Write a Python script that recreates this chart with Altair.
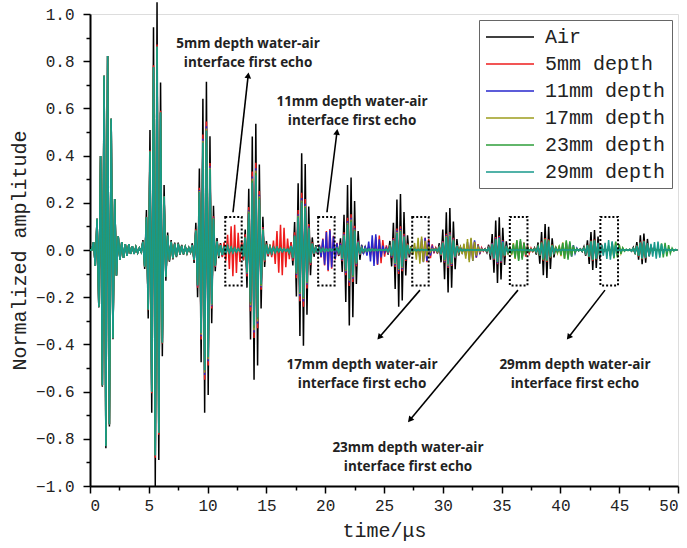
import altair as alt
import pandas as pd

# ---------------- data ----------------
SERIES = ["Air", "5mm depth", "11mm depth", "17mm depth", "23mm depth", "29mm depth"]
COLORS = ["#000000", "#ee1c1c", "#2626cc", "#9c9c1c", "#2e9e3a", "#17998b"]

HALF_PERIOD_US = 0.15           # spacing of successive +/- spikes
T_END = 50.0

# relative spike heights through one burst (with ringing tail), read from the first burst
BURST_SHAPE = [0.04, 0.08, 0.16, 0.29, 0.48, 0.69, 0.89, 1.0, 0.99, 0.89, 0.67, 0.45,
               0.26, 0.13, 0.07, 0.05, 0.04, 0.04, 0.03, 0.03, 0.03, 0.02, 0.02, 0.02,
               0.015, 0.015, 0.01, 0.01]
BURST_PEAK_INDEX = 7

# centres of the plate reverberation bursts (µs)
MAIN_BURST_T = [1.4, 5.55, 9.8, 14.0, 18.0, 22.1, 26.3, 30.4, 34.6, 38.7, 42.8, 46.9]

# peak amplitudes of each burst
AIR_POS = [0.83, 1.06, 0.72, 0.54, 0.41, 0.31, 0.24, 0.18, 0.14, 0.11, 0.085, 0.07]
AIR_NEG = [0.84, 1.00, 0.69, 0.55, 0.41, 0.32, 0.24, 0.18, 0.14, 0.12, 0.085, 0.06]
D5_ENV = [0.83, 0.88, 0.55, 0.37, 0.24, 0.15, 0.10, 0.075, 0.06, 0.05, 0.045, 0.04]
D11_ENV = [0.83, 0.87, 0.53, 0.35, 0.22, 0.135, 0.09, 0.07, 0.055, 0.045, 0.04, 0.035]
D17_ENV = [0.83, 0.87, 0.52, 0.34, 0.21, 0.13, 0.085, 0.065, 0.05, 0.045, 0.04, 0.035]
D23_ENV = [0.83, 0.87, 0.51, 0.33, 0.205, 0.125, 0.08, 0.06, 0.05, 0.045, 0.04, 0.035]
D29_ENV = [0.83, 0.87, 0.51, 0.32, 0.20, 0.12, 0.08, 0.06, 0.05, 0.04, 0.04, 0.035]

# water-air interface echoes (centre µs, peak amplitude)
ECHO5_T = [12.1, 16.2, 20.3, 24.4, 28.5, 32.6, 36.7]
ECHO5_A = [0.10, 0.10, 0.085, 0.06, 0.05, 0.035, 0.03]
ECHO11_T = [20.2, 24.2, 28.3, 32.4, 36.5, 40.6]
ECHO11_A = [0.08, 0.065, 0.05, 0.045, 0.035, 0.03]
ECHO17_T = [28.1, 32.2, 36.3, 40.4, 44.5]
ECHO17_A = [0.055, 0.05, 0.04, 0.035, 0.03]
ECHO23_T = [36.4, 40.5, 44.6, 48.7]
ECHO23_A = [0.045, 0.04, 0.035, 0.03]
ECHO29_T = [44.1, 48.2]
ECHO29_A = [0.04, 0.035]

# annotations
BOX_T0 = [11.5, 19.4, 27.4, 35.7, 43.4]
BOX_T1 = [12.9, 20.8, 28.8, 37.2, 44.9]
BOX_TOP = [0.14, 0.14, 0.14, 0.14, 0.14]
BOX_BOTTOM = [-0.15, -0.15, -0.15, -0.15, -0.15]

ARROW_T0 = [12.16, 20.15, 28.06, 36.39, 43.79]
ARROW_A0 = [0.16, 0.16, -0.17, -0.17, -0.17]
ARROW_T1 = [13.45, 21.0, 24.6, 27.2, 40.7]
ARROW_A1 = [0.74, 0.50, -0.37, -0.72, -0.37]
ARROW_ANGLE = [7, 8, 221, 220, 218]

LABEL_TEXT = ["5mm depth water-air\ninterface first echo",
              "11mm depth water-air\ninterface first echo",
              "17mm depth water-air\ninterface first echo",
              "23mm depth water-air\ninterface first echo",
              "29mm depth water-air\ninterface first echo"]
LABEL_T = [13.44, 22.28, 23.13, 27.04, 41.24]
LABEL_A = [0.871, 0.629, -0.487, -0.839, -0.487]

X_TICKS = [0, 5, 10, 15, 20, 25, 30, 35, 40, 45, 50]
X_MINOR = [2.5, 7.5, 12.5, 17.5, 22.5, 27.5, 32.5, 37.5, 42.5, 47.5]
Y_TICKS = [-1.0, -0.8, -0.6, -0.4, -0.2, 0.0, 0.2, 0.4, 0.6, 0.8, 1.0]
Y_MINOR = [-0.9, -0.7, -0.5, -0.3, -0.1, 0.1, 0.3, 0.5, 0.7, 0.9]

# ---------------- build the traces ----------------
N = int(round(T_END / HALF_PERIOD_US)) + 1


def build(bursts):
    vals = [0.0] * N
    for tc, pos, neg in bursts:
        k0 = int(round(tc / HALF_PERIOD_US)) - BURST_PEAK_INDEX
        for i, s in enumerate(BURST_SHAPE):
            k = k0 + i
            if 0 <= k < N:
                vals[k] += s * (pos if k % 2 == 0 else -neg)
    return vals


series_bursts = {
    "Air": list(zip(MAIN_BURST_T, AIR_POS, AIR_NEG)),
    "5mm depth": list(zip(MAIN_BURST_T, D5_ENV, D5_ENV)) + list(zip(ECHO5_T, ECHO5_A, ECHO5_A)),
    "11mm depth": list(zip(MAIN_BURST_T, D11_ENV, D11_ENV)) + list(zip(ECHO11_T, ECHO11_A, ECHO11_A)),
    "17mm depth": list(zip(MAIN_BURST_T, D17_ENV, D17_ENV)) + list(zip(ECHO17_T, ECHO17_A, ECHO17_A)),
    "23mm depth": list(zip(MAIN_BURST_T, D23_ENV, D23_ENV)) + list(zip(ECHO23_T, ECHO23_A, ECHO23_A)),
    "29mm depth": list(zip(MAIN_BURST_T, D29_ENV, D29_ENV)) + list(zip(ECHO29_T, ECHO29_A, ECHO29_A)),
}

rows = []
for name in SERIES:
    vals = build(series_bursts[name])
    for k, v in enumerate(vals):
        rows.append({"t": k * HALF_PERIOD_US, "amp": v, "series": name})
wave_df = pd.DataFrame(rows)

box_df = pd.DataFrame({"t0": BOX_T0, "t1": BOX_T1, "top": BOX_TOP, "bottom": BOX_BOTTOM})
arrow_df = pd.DataFrame({"t0": ARROW_T0, "a0": ARROW_A0, "t1": ARROW_T1, "a1": ARROW_A1,
                         "angle": ARROW_ANGLE})
label_df = pd.DataFrame({"t": LABEL_T, "a": LABEL_A, "text": LABEL_TEXT})

# ---------------- chart ----------------
x_scale = alt.Scale(domain=[0, 50], nice=False, zero=False)
y_scale = alt.Scale(domain=[-1, 1], nice=False, zero=False)

AX_FONT = "Liberation Mono"

x_main = alt.Axis(values=X_TICKS, format="d", orient="bottom", grid=False,
                  tickSize=7, tickWidth=1.5, tickColor="black",
                  domainColor="black", domainWidth=2,
                  labelFont=AX_FONT, labelFontSize=16, labelColor="#222", labelPadding=4,
                  title="time/μs", titleFont=AX_FONT, titleFontSize=20,
                  titleFontWeight="normal", titleColor="#222", titlePadding=7)
y_main = alt.Axis(values=Y_TICKS, format=".1f", orient="left", grid=False,
                  tickSize=7, tickWidth=1.5, tickColor="black",
                  domainColor="black", domainWidth=2,
                  labelFont=AX_FONT, labelFontSize=16, labelColor="#222", labelPadding=9,
                  title="Normalized amplitude", titleFont=AX_FONT, titleFontSize=20,
                  titleFontWeight="normal", titleColor="#222", titlePadding=6)
x_minor = alt.Axis(values=X_MINOR, orient="bottom", grid=False, labels=False, domain=False,
                   tickSize=4, tickWidth=1.5, tickColor="black", title=None)
y_minor = alt.Axis(values=Y_MINOR, orient="left", grid=False, labels=False, domain=False,
                   tickSize=4, tickWidth=1.5, tickColor="black", title=None)

legend = alt.Legend(title=None, orient="top-right", offset=6, padding=6,
                    strokeColor="#666", fillColor="white",
                    labelFont=AX_FONT, labelFontSize=20, labelColor="#222", labelLimit=300,
                    symbolType="M-2.4,0H2.4", symbolSize=400, symbolStrokeWidth=1.5,
                    symbolOffset=14, labelOffset=24, rowPadding=6)

color_enc = alt.Color("series:N", scale=alt.Scale(domain=SERIES, range=COLORS),
                      legend=legend, sort=SERIES)


def line_layer(name, xa, ya):
    return alt.Chart(wave_df).transform_filter(alt.datum.series == name).mark_line(
        strokeWidth=1.5, clip=False
    ).encode(
        x=alt.X("t:Q", scale=x_scale, axis=xa),
        y=alt.Y("amp:Q", scale=y_scale, axis=ya),
        color=color_enc,
    )


layers = [line_layer("Air", x_main, y_main), line_layer("5mm depth", x_minor, y_minor)]
for name in SERIES[2:]:
    layers.append(line_layer(name, None, None))

boxes = alt.Chart(box_df).mark_rect(filled=False, stroke="black", strokeWidth=2,
                                    strokeDash=[2, 2]).encode(
    x=alt.X("t0:Q", scale=x_scale, axis=None), x2="t1:Q",
    y=alt.Y("top:Q", scale=y_scale, axis=None), y2="bottom:Q")

arrows = alt.Chart(arrow_df).mark_rule(color="black", strokeWidth=1.6).encode(
    x=alt.X("t0:Q", scale=x_scale, axis=None), x2="t1:Q",
    y=alt.Y("a0:Q", scale=y_scale, axis=None), y2="a1:Q")

heads = alt.Chart(arrow_df).mark_point(shape="triangle-up", filled=True, color="black",
                                       size=45, opacity=1).encode(
    x=alt.X("t1:Q", scale=x_scale, axis=None),
    y=alt.Y("a1:Q", scale=y_scale, axis=None),
    angle=alt.Angle("angle:Q", scale=None))

labels = alt.Chart(label_df).mark_text(font="Open Sans", fontWeight="bold", fontSize=13.5,
                                       lineBreak="\n", lineHeight=19, align="center",
                                       baseline="middle", color="#222").encode(
    x=alt.X("t:Q", scale=x_scale, axis=None),
    y=alt.Y("a:Q", scale=y_scale, axis=None),
    text="text:N")

chart = alt.layer(*layers, boxes, arrows, heads, labels).resolve_axis(
    x="independent", y="independent"
).properties(
    width=588, height=472,
    autosize=alt.AutoSizeParams(type="none"),
    padding={"left": 90, "top": 14, "right": 9, "bottom": 62},
).configure_view(stroke="black", strokeWidth=2).configure(background="white")

chart.save("out.html", embed_options={"renderer": "svg", "actions": False})
